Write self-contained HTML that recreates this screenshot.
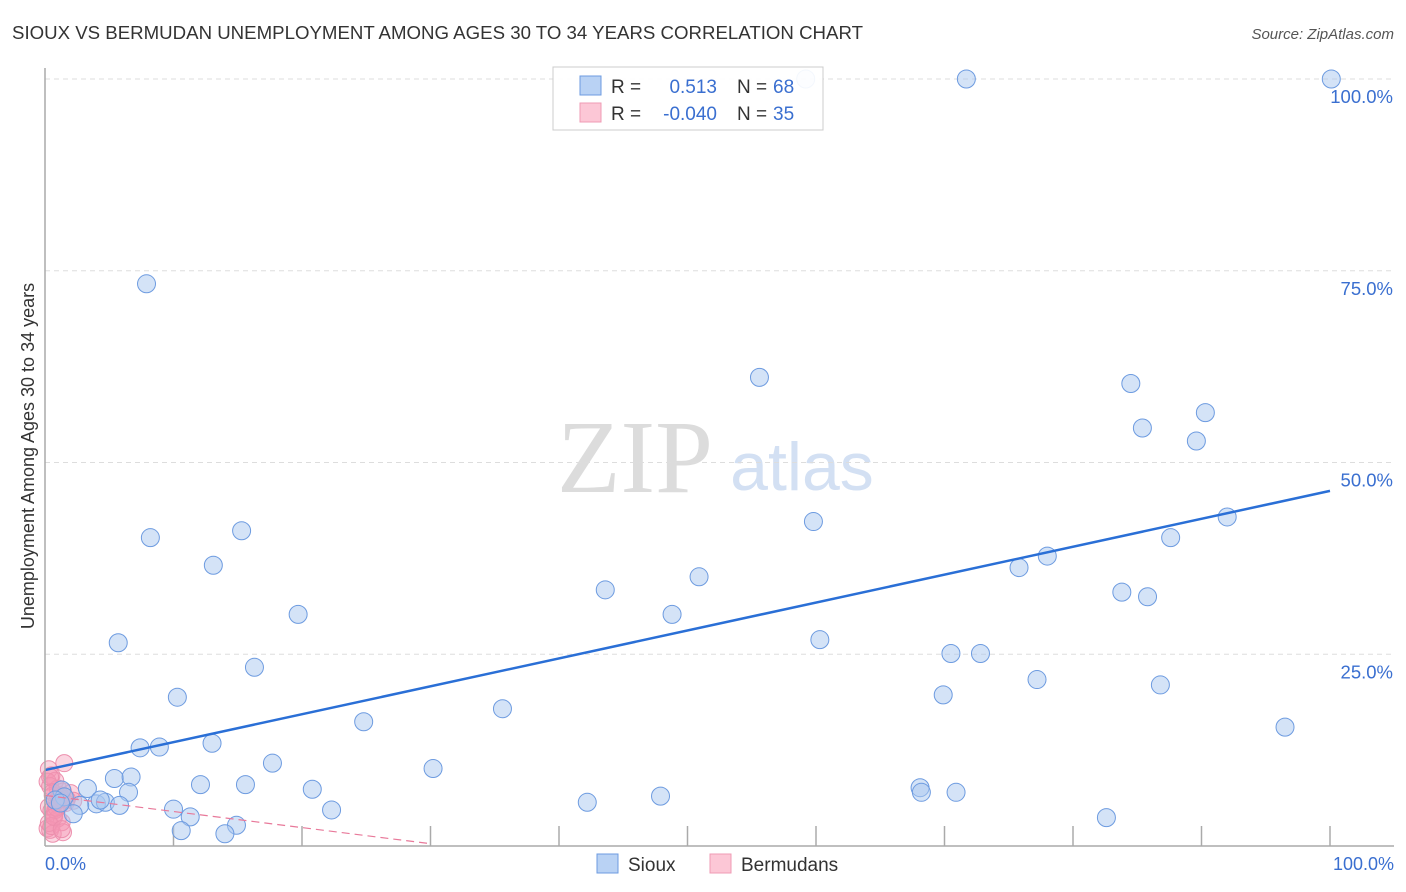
<!DOCTYPE html>
<html><head><meta charset="utf-8"><style>
body{margin:0;background:#fff;font-family:"Liberation Sans",sans-serif;}
svg{display:block}
</style></head><body>
<svg id="c" width="1406" height="892" xmlns="http://www.w3.org/2000/svg">
<text x="12" y="39" font-size="18" fill="#333" textLength="851" lengthAdjust="spacingAndGlyphs">SIOUX VS BERMUDAN UNEMPLOYMENT AMONG AGES 30 TO 34 YEARS CORRELATION CHART</text>
<text x="1394" y="39" font-size="15" fill="#555" font-style="italic" text-anchor="end">Source: ZipAtlas.com</text>
<text x="635" y="492" font-size="104" fill="#dcdcdc" font-family="Liberation Serif,serif" text-anchor="middle">ZIP</text>
<text x="802" y="490" font-size="68" fill="#d3e0f3" text-anchor="middle">atlas</text>
<text transform="translate(34,456) rotate(-90)" font-size="18" fill="#333" text-anchor="middle">Unemployment Among Ages 30 to 34 years</text>
<g id="grid"></g><g id="pts"></g><g id="lines"></g>
<line x1="45" y1="68" x2="45" y2="846" stroke="#aaa" stroke-width="1.5"/>
<line x1="45" y1="846" x2="1394" y2="846" stroke="#aaa" stroke-width="1.5"/>
<text x="45" y="870" font-size="18" fill="#3a6fd0">0.0%</text>
<text x="1394" y="870" font-size="18" fill="#3a6fd0" text-anchor="end">100.0%</text>
<g>
<rect x="553" y="67" width="270" height="63" fill="#fff" fill-opacity="0.92" stroke="#ccc"/>
<rect x="580" y="76" width="21" height="19" fill="#b9d2f4" stroke="#6d9be0"/>
<rect x="580" y="103" width="21" height="19" fill="#fcc7d6" stroke="#ef9bb4"/>
<text x="611" y="93" font-size="19" fill="#333">R =</text>
<text x="717" y="93" font-size="19" fill="#3a6fd0" text-anchor="end">0.513</text>
<text x="737" y="93" font-size="19" fill="#333">N =</text>
<text x="773" y="93" font-size="19" fill="#3a6fd0">68</text>
<text x="611" y="120" font-size="19" fill="#333">R =</text>
<text x="717" y="120" font-size="19" fill="#3a6fd0" text-anchor="end">-0.040</text>
<text x="737" y="120" font-size="19" fill="#333">N =</text>
<text x="773" y="120" font-size="19" fill="#3a6fd0">35</text>
</g>
<g>
<rect x="597" y="854" width="21" height="19" fill="#b9d2f4" stroke="#6d9be0"/>
<text x="628" y="871" font-size="19" fill="#333">Sioux</text>
<rect x="710" y="854" width="21" height="19" fill="#fcc7d6" stroke="#ef9bb4"/>
<text x="741" y="871" font-size="19" fill="#333">Bermudans</text>
</g>
</svg>
<script>
const yTicks=[25,50,75,100];
const yTickLabels=["25.0%","50.0%","75.0%","100.0%"];
const xTicks=[10,20,30,40,50,60,70,80,90,100];
const siouxX=[7.9,8.2,5.7,10.3,13.1,15.3,16.3,19.7,7.4,8.9,13,17.7,24.8,30.2,35.6,42.2,43.6,47.9,48.8,50.9,55.6,59.8,60.3,68.1,68.2,69.9,70.5,70.9,71.7,72.8,75.8,77.2,78,82.6,83.8,84.5,85.4,85.8,86.8,87.6,89.6,90.3,92,96.5,100.1,3.3,5.4,6.7,6.5,4,4.7,2.7,2.2,1.3,10,11.3,10.6,12.1,14.9,14,15.6,20.8,22.3,1.5,0.8,1.2,4.3,5.8,59.2];
const siouxY=[73.3,40.2,26.5,19.4,36.6,41.1,23.3,30.2,12.8,12.9,13.4,10.8,16.2,10.1,17.9,5.7,33.4,6.5,30.2,35.1,61.1,42.3,26.9,7.6,7,19.7,25.1,7,100,25.1,36.3,21.7,37.8,3.7,33.1,60.3,54.5,32.5,21,40.2,52.8,56.5,42.9,15.5,100,7.5,8.8,9,7,5.5,5.7,5.3,4.2,7.3,4.8,3.8,2,8,2.7,1.6,8,7.4,4.7,6.4,6,5.6,6,5.3,100];
const bermX=[0.3,0.5,0.8,1,1.2,1.5,0.2,0.4,0.6,0.9,1.1,1.4,1.7,2,0.3,0.5,0.7,1,1.3,0.2,0.4,0.6,0.8,1.2,1.6,0.3,0.5,0.9,1.1,1.4,2.2,0.4,0.7,1.3,0.6];
const bermY=[10,9.2,8.5,7.5,6.6,10.8,8.4,7.8,6.6,5.8,5.2,7.1,6.1,6.9,5.1,4.6,4.1,3.6,3.1,2.3,2.1,1.6,4.7,6.3,5.6,3,2.6,5,6,1.8,5.9,9,3.8,2.2,7];
const siouxTrend=[9.9,46.3];
const bermTrend=[6.6,0.3];
const bermTrendEnd=30;
const X=v=>45+v*12.85, Y=v=>846-v*7.67;
const NS="http://www.w3.org/2000/svg";
function mk(t,a,p){const e=document.createElementNS(NS,t);for(const k in a)e.setAttribute(k,a[k]);p.appendChild(e);return e;}
const grid=document.getElementById('grid');
yTicks.forEach((t,i)=>{
 const l=mk('line',{x1:45,x2:1394,y1:Y(t),y2:Y(t),stroke:'#ddd','stroke-dasharray':'5,4'},grid);
 
 
 const tx=mk('text',{x:1393,y:Y(t)+24,'font-size':18.5,fill:'#3a6fd0','text-anchor':'end'},grid);
 tx.textContent=yTickLabels[i];
 
 
});
xTicks.forEach(t=>{
 const l=mk('line',{x1:X(t),x2:X(t),y1:826,y2:846,stroke:'#aaa','stroke-width':1.5},grid);
 
 
});
const pts=document.getElementById('pts');
bermX.forEach((v,i)=>{
 const c=mk('circle',{cx:X(v),cy:Y(bermY[i]),r:8.5,fill:'rgba(245,150,180,0.4)',stroke:'#ec8fad','stroke-width':1},pts);
 
 
});
siouxX.forEach((v,i)=>{
 const c=mk('circle',{cx:X(v),cy:Y(siouxY[i]),r:9,fill:'rgba(170,200,240,0.5)',stroke:'#6d9be0','stroke-width':1},pts);
 
 
});
const lines=document.getElementById('lines');
const s=mk('line',{x1:X(0),y1:Y(siouxTrend[0]),x2:X(100),y2:Y(siouxTrend[1]),stroke:'#2a6fd6','stroke-width':2.5},lines);


const b=mk('line',{x1:X(0),y1:Y(bermTrend[0]),x2:X(bermTrendEnd),y2:Y(bermTrend[1]),stroke:'#e8799a','stroke-width':1.2,'stroke-dasharray':'8,5'},lines);


</script>
</body></html>
